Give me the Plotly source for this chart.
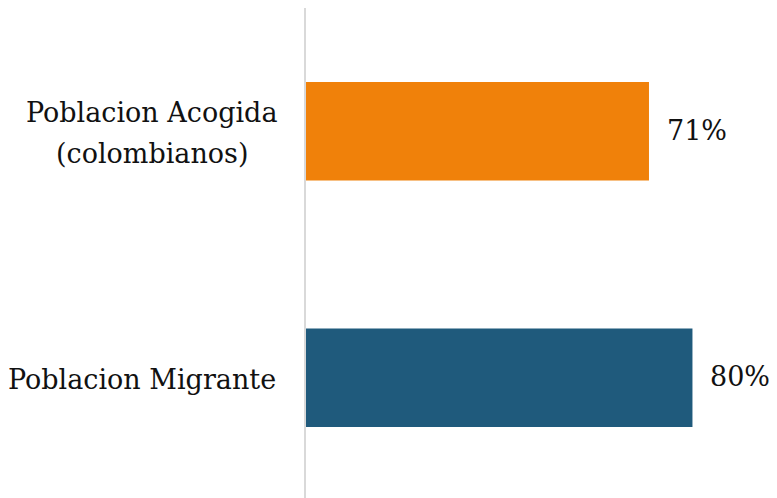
import plotly.graph_objects as go

# data
categories = ["Poblacion Migrante", "Poblacion Acogida<br>(colombianos)"]
values = [80, 71]
colors = ["#1F5A7C", "#F0810A"]

FONT = "DejaVu Serif"
LINE_GAP = 41  # px between label lines

fig = go.Figure()
fig.add_trace(go.Bar(
    y=categories,
    x=values,
    orientation="h",
    width=0.4,
    marker=dict(color=colors, line=dict(width=0)),
    hoverinfo="skip",
))

# value labels to the right of bars
for cat, val in zip(categories, values):
    fig.add_annotation(x=val, y=cat, text=f"{val}%", showarrow=False,
                       xanchor="left", xshift=16, yshift=1,
                       font=dict(family=FONT, size=27, color="#111111"))

# category labels; wrapped ones get one annotation per line (centred block)
for cat in categories:
    lines = cat.split("<br>")
    n = len(lines)
    for i, line in enumerate(lines):
        if n == 1:
            anchor, xs = "right", -28
        else:
            anchor, xs = "center", -154
        fig.add_annotation(x=0, xref="paper", y=cat, yref="y", text=line,
                           showarrow=False, xanchor=anchor, xshift=xs,
                           yshift=((n - 1) / 2 - i) * LINE_GAP - 2,
                           font=dict(family=FONT, size=27, color="#111111"))

fig.update_xaxes(range=[0, 97.5], showgrid=False, showticklabels=False,
                 zeroline=False, showline=False)
fig.update_yaxes(showticklabels=False, showgrid=False, zeroline=False,
                 showline=True, linecolor="#D9D9D9", linewidth=2)
fig.update_layout(
    width=769, height=493,
    margin=dict(l=298, r=0, t=0, b=0),
    plot_bgcolor="white", paper_bgcolor="white",
    showlegend=False,
)
fig.write_html("out.html")
